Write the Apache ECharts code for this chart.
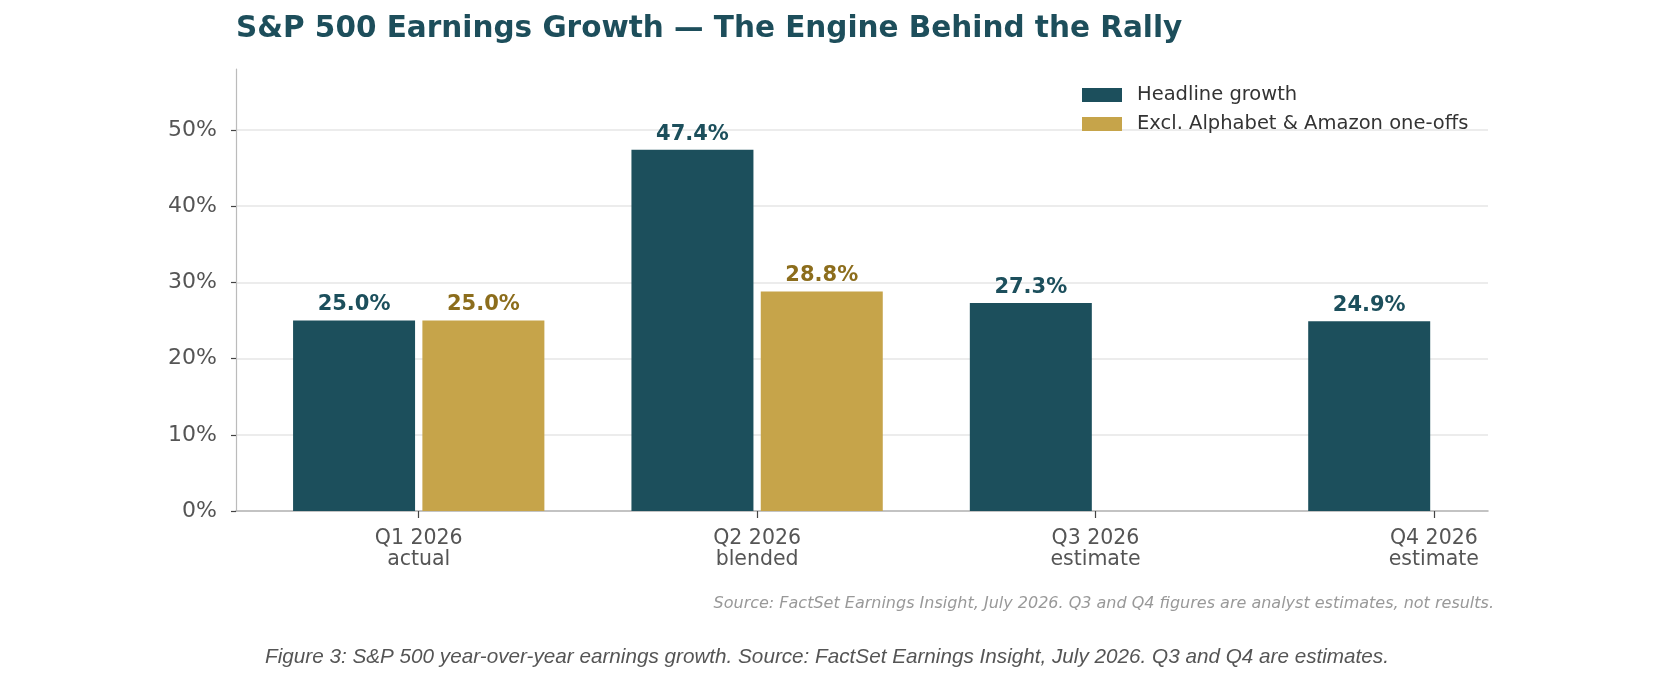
<!DOCTYPE html>
<html>
<head>
<meta charset="utf-8">
<title>S&amp;P 500 Earnings Growth</title>
<script src="https://cdn.jsdelivr.net/npm/echarts@6/dist/echarts.min.js"></script>
<style>
  html, body { margin: 0; padding: 0; background: #ffffff; }
  #chart { width: 1654px; height: 678px; }
</style>
</head>
<body>
<div id="chart"></div>
<script>
// Data
const quarters = ['Q1 2026\nactual', 'Q2 2026\nblended', 'Q3 2026\nestimate', 'Q4 2026\nestimate'];
const headlineGrowth = [25.0, 47.4, 27.3, 24.9];
const exclOneOffs = [25.0, 28.8, null, null];
const yTickValues = [0, 10, 20, 30, 40, 50];
const quarterPositions = [0, 1, 2, 3];

const teal = '#1c4f5c';
const gold = '#c6a44a';
const goldText = '#8c6d1c';
const font = '"DejaVu Sans", sans-serif';

function toPoints(values) {
    // value x axis: each quarter sits on its index
    let points = [];
    values.forEach((v, i) => {
        if (v !== null) points.push([quarterPositions[i], v]);
    });
    return points;
}

function drawChart() {
    let chart = echarts.init(document.getElementById('chart'));

    let barLabel = (color) => ({
        show: true,
        position: 'top',
        distance: 5,
        fontFamily: font,
        fontWeight: 'bold',
        fontSize: 21,
        color: color,
        formatter: (p) => p.value[1].toFixed(1) + '%'
    });

    let option = {
        animation: false,
        textStyle: { fontFamily: font },
        title: [
            {
                text: 'S&P 500 Earnings Growth — The Engine Behind the Rally',
                left: 236,
                top: 14,
                padding: 0,
                textStyle: { fontFamily: font, fontWeight: 'bold', fontSize: 29.5, color: '#1d4e5b' }
            },
            {
                text: 'Source: FactSet Earnings Insight, July 2026. Q3 and Q4 figures are analyst estimates, not results.',
                right: 160,
                top: 596,
                padding: 0,
                textStyle: { fontFamily: font, fontStyle: 'italic', fontWeight: 'normal', fontSize: 16, color: '#999999' }
            },
            {
                text: 'Figure 3: S&P 500 year-over-year earnings growth. Source: FactSet Earnings Insight, July 2026. Q3 and Q4 are estimates.',
                left: 'center',
                top: 647,
                padding: 0,
                textStyle: { fontFamily: '"Liberation Sans", Arial, sans-serif', fontStyle: 'italic', fontWeight: 'normal', fontSize: 20.7, color: '#555555' }
            }
        ],
        legend: {
            orient: 'vertical',
            left: 1082,
            top: 84,
            padding: 0,
            itemWidth: 40,
            itemHeight: 14,
            itemGap: 7,
            icon: 'rect',
            textStyle: { fontFamily: font, fontSize: 19.5, color: '#333333', lineHeight: 22, padding: [0, 0, 0, 10] },
            data: ['Headline growth', 'Excl. Alphabet & Amazon one-offs']
        },
        grid: { left: 236, right: 166, top: 69, bottom: 167 },
        xAxis: {
            type: 'value',
            min: -0.54,
            max: 3.16,
            axisLine: { show: true, onZero: false, lineStyle: { color: '#b0b0b0', width: 1.5 } },
            axisTick: {
                show: true,
                customValues: quarterPositions,
                length: 7,
                lineStyle: { color: '#444444', width: 1.2 }
            },
            axisLabel: {
                customValues: quarterPositions,
                formatter: (v) => quarters[Math.round(v)],
                fontFamily: font,
                fontSize: 20.5,
                lineHeight: 21,
                color: '#555555',
                margin: 17
            },
            splitLine: { show: false }
        },
        yAxis: {
            type: 'value',
            min: 0,
            max: 58,
            interval: 10,
            axisLine: { show: true, onZero: false, lineStyle: { color: '#bbbbbb', width: 1.2 } },
            axisTick: {
                show: true,
                customValues: yTickValues,
                length: 5,
                lineStyle: { color: '#444444', width: 1.2 }
            },
            axisLabel: {
                customValues: yTickValues,
                formatter: (v) => v + '%',
                fontFamily: font,
                fontSize: 22,
                color: '#555555',
                margin: 19
            },
            splitLine: {
                show: true,
                showMinLine: false,
                showMaxLine: true,
                lineStyle: { color: '#e6e6e6', width: 1.5 }
            }
        },
        series: [
            {
                name: 'Headline growth',
                type: 'bar',
                barWidth: 122,
                barGap: '6%',
                itemStyle: { color: teal },
                label: barLabel(teal),
                data: toPoints(headlineGrowth)
            },
            {
                name: 'Excl. Alphabet & Amazon one-offs',
                type: 'bar',
                barWidth: 122,
                barGap: '6%',
                itemStyle: { color: gold },
                label: barLabel(goldText),
                data: toPoints(exclOneOffs)
            }
        ]
    };

    chart.setOption(option);
}

window.addEventListener('load', drawChart);
</script>
</body>
</html>
